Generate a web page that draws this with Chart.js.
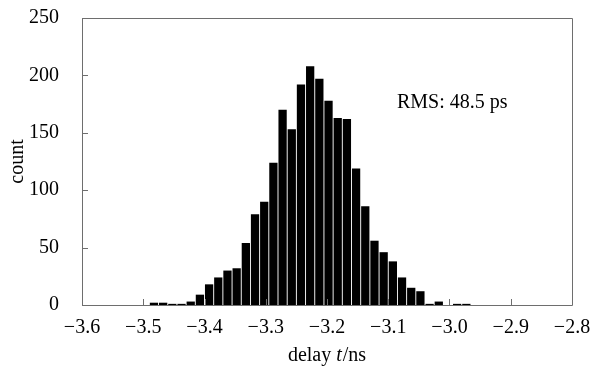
<!DOCTYPE html>
<html><head><meta charset="utf-8">
<script src="https://cdn.jsdelivr.net/npm/chart.js@4/dist/chart.umd.min.js"></script>
<style>html,body{margin:0;padding:0;background:#fff}canvas{display:block}</style>
</head><body><canvas id="c" width="590" height="367"></canvas>
<script>
// bin centres (ns), bin width 0.015 ns
const binCenters = [-3.4825,-3.4675,-3.4525,-3.4375,-3.4225,-3.4075,-3.3925,-3.3775,-3.3625,-3.3475,
  -3.3325,-3.3175,-3.3025,-3.2875,-3.2725,-3.2575,-3.2425,-3.2275,-3.2125,-3.1975,
  -3.1825,-3.1675,-3.1525,-3.1375,-3.1225,-3.1075,-3.0925,-3.0775,-3.0625,-3.0475,
  -3.0325,-3.0175,-3.0025,-2.9875,-2.9725];
const counts = [2,2,1,1,3,9,18,24,30,32,
  54,79,90,124,170,153,192,208,197,178,
  163,162,119,86,56,46,38,24,15,12,
  1,3,0,1,1];
const xTickValues = [-3.6,-3.5,-3.4,-3.3,-3.2,-3.1,-3.0,-2.9,-2.8];
const yTickValues = [0,50,100,150,200,250];
const annotation = 'RMS: 48.5 ps';

const FONT = '"Liberation Serif", "Times New Roman", serif';
const FS = 20;

const framePlugin = {
  id: 'frame',
  afterDraw(chart) {
    const ctx = chart.ctx, a = chart.chartArea;
    const xs = chart.scales.x, ys = chart.scales.y;
    ctx.save();
    ctx.strokeStyle = '#6e6e6e';
    ctx.lineWidth = 1;
    ctx.beginPath();
    ctx.rect(Math.round(a.left) + 0.5, Math.round(a.top) + 0.5, Math.round(a.right - a.left), Math.round(a.bottom - a.top));
    xTickValues.forEach(v => {
      const px = Math.round(xs.getPixelForValue(v)) + 0.5;
      ctx.moveTo(px, a.bottom); ctx.lineTo(px, a.bottom - 6);
    });
    yTickValues.forEach(v => {
      const py = Math.round(ys.getPixelForValue(v)) + 0.5;
      ctx.moveTo(a.left, py); ctx.lineTo(a.left + 6, py);
    });
    ctx.stroke();
    ctx.fillStyle = '#000';
    ctx.font = FS + 'px ' + FONT;
    ctx.textBaseline = 'alphabetic';
    ctx.textAlign = 'left';
    ctx.fillText(annotation, 397, 108);
    const p1 = 'delay ', p2 = 't', p3 = '/ns';
    ctx.font = FS + 'px ' + FONT;
    const w1 = ctx.measureText(p1).width, w3 = ctx.measureText(p3).width;
    ctx.font = 'italic ' + FS + 'px ' + FONT;
    const w2 = ctx.measureText(p2).width + 1;
    const total = w1 + w2 + w3;
    let x0 = (a.left + a.right) / 2 - total / 2;
    const yb = 361;
    ctx.font = FS + 'px ' + FONT;
    ctx.fillText(p1, x0, yb);
    ctx.font = 'italic ' + FS + 'px ' + FONT;
    ctx.fillText(p2, x0 + w1, yb);
    ctx.font = FS + 'px ' + FONT;
    ctx.fillText(p3, x0 + w1 + w2, yb);
    ctx.translate(23, (a.top + a.bottom) / 2);
    ctx.rotate(-Math.PI / 2);
    ctx.textAlign = 'center';
    ctx.fillText('count', 0, 0);
    ctx.restore();
  }
};

new Chart(document.getElementById('c'), {
  type: 'bar',
  data: {
    datasets: [{
      data: binCenters.map((x, i) => ({ x: x, y: counts[i] })),
      backgroundColor: '#000',
      borderWidth: 0,
      barPercentage: 1,
      categoryPercentage: 0.9
    }]
  },
  options: {
    responsive: false,
    animation: false,
    layout: { padding: { top: 18, right: 18, left: 0, bottom: 0 } },
    plugins: { legend: { display: false }, tooltip: { enabled: false } },
    scales: {
      x: {
        type: 'linear',
        offset: false,
        min: -3.6, max: -2.8,
        afterFit(s) { s.height = 62; s.paddingLeft = 0; s.paddingRight = 0; },
        afterBuildTicks(s) { s.ticks = xTickValues.map(v => ({ value: v })); },
        grid: { display: false, offset: false },
        border: { display: false },
        ticks: {
          padding: 3,
          color: '#000',
          font: { family: FONT, size: FS },
          maxRotation: 0,
          autoSkip: false,
          callback: v => (v < 0 ? '\u2212' : '') + Math.abs(v).toFixed(1)
        }
      },
      y: {
        min: 0, max: 250,
        afterFit(s) { s.width = 82; s.paddingTop = 0; s.paddingBottom = 0; },
        afterBuildTicks(s) { s.ticks = yTickValues.map(v => ({ value: v })); },
        grid: { display: false },
        border: { display: false },
        ticks: {
          padding: 15,
          color: '#000',
          font: { family: FONT, size: FS }
        }
      }
    }
  },
  plugins: [framePlugin]
});
</script>
</body></html>
